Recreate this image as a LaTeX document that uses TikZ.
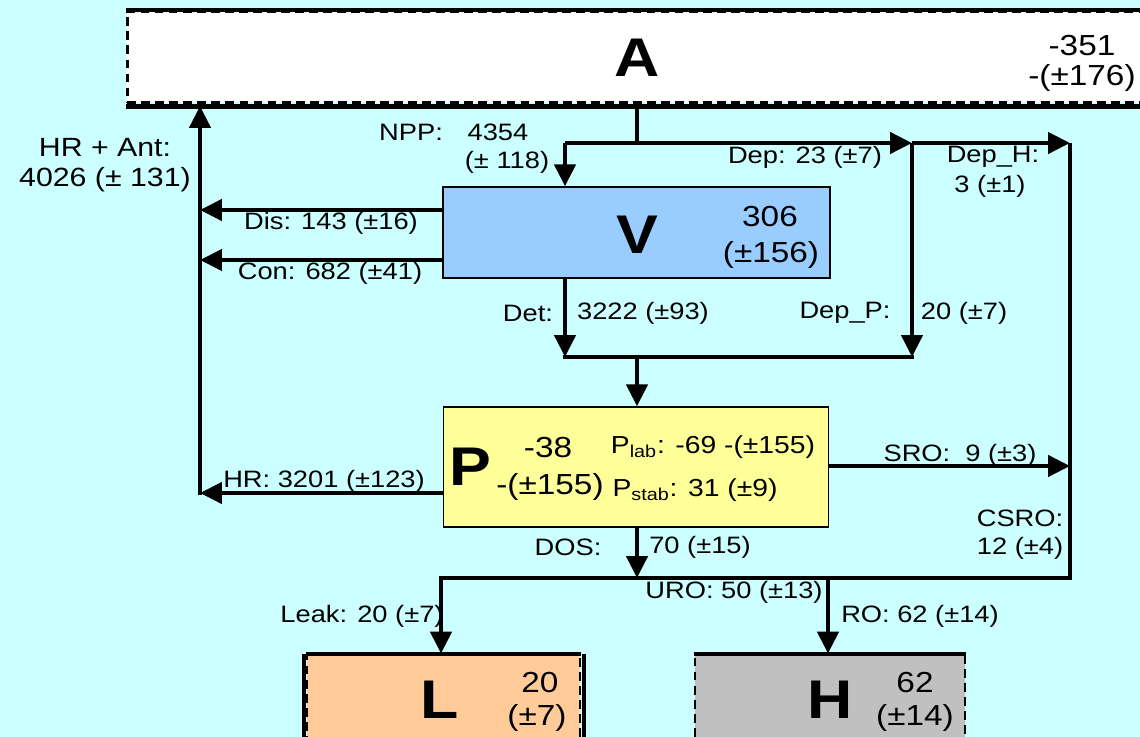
\documentclass[tikz,border=0pt]{standalone}
\usepackage{fontspec}
\setmainfont{Liberation Sans}[FakeStretch=1.15]
\usepackage{xcolor}
\usetikzlibrary{arrows.meta}
\definecolor{bgcyan}{HTML}{CCFFFF}
\definecolor{vblue}{HTML}{99CCFF}
\definecolor{pyellow}{HTML}{FFFF99}
\definecolor{lorange}{HTML}{FFCC99}
\definecolor{hgrey}{HTML}{C0C0C0}

\begin{document}
\begin{tikzpicture}[x=0.02cm, y=-0.02cm,
      pool/.style={draw, line width=0.8pt, inner sep=0pt},
      dpool/.style={draw, line width=1.6pt, dash pattern=on 5pt off 3pt, inner sep=0pt},
      edge/.style={line width=2.4pt},
      line/.style={line width=2.6pt},
      flow/.style={line width=2.6pt, -{Triangle[length=0.44cm, width=0.42cm]}},
      big/.style={font=\fontsize{31}{33}\selectfont\bfseries, inner sep=0pt},
      num/.style={font=\fontsize{16.5}{18}\selectfont, inner sep=0pt},
      lbl/.style={font=\fontsize{13.5}{15}\selectfont, inner sep=0pt},
    ]
    \clip (0,0) rectangle (1140,737);
    \fill[bgcyan] (0,0) rectangle (1140,737);

    % pools
    \node[dpool, fill=white, minimum width=20.4cm, minimum height=1.82cm] (A) at (637,57) {};
    \node[pool, fill=vblue, minimum width=7.74cm, minimum height=1.82cm] (V) at (636.5,232.5) {};
    \node[pool, fill=pyellow, minimum width=7.7cm, minimum height=2.4cm] (P) at (636,467) {};
    \node[dpool, fill=lorange, minimum width=5.46cm, minimum height=1.8cm] (L) at (443.5,700) {};
    \node[dpool, fill=hgrey, minimum width=5.4cm, minimum height=1.8cm] (H) at (830,700) {};
    \draw[edge] (A.north west) -- (A.north east);
    \draw[edge] ([yshift=-1.5pt]A.south west) -- ([yshift=-1.5pt]A.south east);
    \draw[edge] (L.north west) -- (L.north east);
    \draw[edge] ([xshift=-1pt]L.north west) -- ([xshift=-1pt]L.south west);
    \draw[edge] ([xshift=1.5pt]L.north east) -- ([xshift=1.5pt]L.south east);
    \draw[edge] (H.north west) -- (H.north east);

    % pool texts
    \node[big] (Aname) at (637,58) {A};
    \node[num] (Aval) at (1082,46) {-351};
    \node[num] (Aerr) at (1082,78) {-(±176)};
    \node[big] (Vname) at (637,235) {V};
    \node[num] (Vval) at (770,217) {306};
    \node[num] (Verr) at (771,255) {(±156)};
    \node[big] (Pname) at (470,467) {P};
    \node[num] (Pval) at (548,448) {-38};
    \node[num] (Perr) at (550,487) {-(±155)};
    \node[lbl, font=\fontsize{14}{16}\selectfont] (Plab) at (713,447) {P\textsubscript{lab}: -69 -(±155)};
    \node[lbl, font=\fontsize{14}{16}\selectfont] (Pstab) at (695,490) {P\textsubscript{stab}: 31 (±9)};
    \node[big] (Lname) at (440,700) {L};
    \node[num] (Lval) at (540,683) {20};
    \node[num] (Lerr) at (537,718) {(±7)};
    \node[big] (Hname) at (830,700) {H};
    \node[num] (Hval) at (915,683) {62};
    \node[num] (Herr) at (915,718) {(±14)};

    % junctions
    \coordinate (split) at (637,143);
    \coordinate (vcol) at (565,143);
    \coordinate (depP) at (912,143);
    \coordinate (depH) at (1070,143);
    \coordinate (dpin) at (912,357);
    \coordinate (detin) at (565,357);
    \coordinate (merge) at (637,357);
    \coordinate (hrD) at (200,210);
    \coordinate (hrC) at (200,260);
    \coordinate (hrH) at (200,493);
    \coordinate (hrtop) at (200,106);
    \coordinate (sroin) at (1070,466);
    \coordinate (sink) at (1070,578);
    \coordinate (dos) at (637,578);
    \coordinate (leak) at (441,578);
    \coordinate (ro) at (828,578);

    % fluxes
    \draw[line] (A) -- (split);
    \draw[line] (split) -- (vcol);
    \draw[flow] (vcol) -- (vcol |- V.north);
    \draw[flow] (split) -- (depP);
    \draw[flow] (depP) -- (depH);
    \draw[flow] (depP) -- (dpin);
    \draw[line] (depH) -- ([yshift=-1.3pt]sink);
    \draw[flow] (V.west |- hrD) -- (hrD);
    \draw[flow] (V.west |- hrC) -- (hrC);
    \draw[flow] (P.west |- hrH) -- (hrH);
    \draw[flow] ([yshift=-1.3pt]hrH) -- (hrtop);
    \draw[flow] (V.south -| detin) -- (detin);
    \draw[line] ([xshift=-1.3pt]detin) -- ([xshift=1.3pt]dpin);
    \draw[flow] (merge) -- (merge |- P.north);
    \draw[flow] (P.east |- sroin) -- (sroin);
    \draw[flow] (P.south -| dos) -- (dos);
    \draw[line] ([xshift=-1.3pt]leak) -- (sink);
    \draw[flow] (leak) -- (leak |- L.north);
    \draw[flow] (ro) -- (ro |- H.north);

    % flux labels
    \node[lbl, font=\fontsize{15}{17}\selectfont] (hrant) at (105,148) {HR + Ant:};
    \node[lbl, font=\fontsize{15}{17}\selectfont] (hrantv) at (105,180) {4026 (± 131)};
    \node[lbl] (npp) at (411,132) {NPP:};
    \node[lbl] (nppv) at (498,132) {4354};
    \node[lbl] (nppe) at (507,162) {(± 118)};
    \node[lbl] (dis) at (331,223) {Dis: 143 (±16)};
    \node[lbl] (con) at (330,273) {Con: 682 (±41)};
    \node[lbl] (dep) at (805,157) {Dep: 23 (±7)};
    \node[lbl] (deph) at (993,157) {Dep\_H:};
    \node[lbl] (dephv) at (990,186) {3 (±1)};
    \node[lbl] (det) at (528,313) {Det:};
    \node[lbl] (detv) at (643,313) {3222 (±93)};
    \node[lbl] (depp) at (845,313) {Dep\_P:};
    \node[lbl] (deppv) at (964,313) {20 (±7)};
    \node[lbl] (hr) at (324,481) {HR: 3201 (±123)};
    \node[lbl] (sro) at (960,455) {SRO:\ \ 9 (±3)};
    \node[lbl] (csro) at (1020,518) {CSRO:};
    \node[lbl] (csrov) at (1020,548) {12 (±4)};
    \node[lbl] (dosl) at (568,547) {DOS:};
    \node[lbl] (dosv) at (700,547) {70 (±15)};
    \node[lbl] (uro) at (734,592) {URO: 50 (±13)};
    \node[lbl] (leakl) at (362,616) {Leak: 20 (±7)};
    \node[lbl] (rol) at (920,616) {RO: 62 (±14)};
  \end{tikzpicture}
\end{document}
